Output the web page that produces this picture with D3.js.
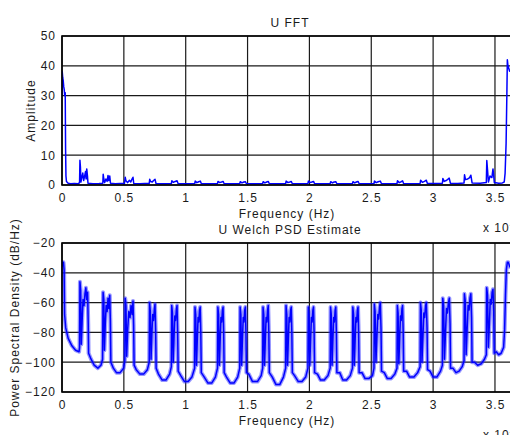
<!DOCTYPE html>
<html>
<head>
<meta charset="utf-8">
<script src="https://cdn.jsdelivr.net/npm/d3@7"></script>
<style>
  body { margin: 0; background: #fff; overflow: hidden; }
  svg { display: block; font-family: "Liberation Sans", Arial, sans-serif; }
  .tick text { font-size: 12px; fill: #1a1a1a; letter-spacing: 1px; }
  .lbl { font-size: 12px; fill: #1a1a1a; letter-spacing: 1px; }
</style>
</head>
<body>
<svg class="chart"></svg>
<script>
// Chart size (window is 510x435, right side of the axes is cut off)
const width = 510;
const height = 435;

// Tick labels
const freqTicks = [0, 0.5, 1, 1.5, 2, 2.5, 3, 3.5];
const ampTicks = [0, 10, 20, 30, 40, 50];
const dbTicks = [-120, -100, -80, -60, -40, -20];

// U FFT amplitude, [frequency (x 10^4 Hz), amplitude]
const fftData = [
  [0, 30], [0.002, 38], [0.006, 36], [0.01, 35], [0.014, 33], [0.018, 32], [0.022, 30], [0.026, 31], [0.029, 12], [0.032, 3], [0.036, 1.2],
  [0.05, 0.6], [0.07, 0.4], [0.1, 0.5], [0.13, 0.4],
  [0.142, 0.8], [0.145, 8.3], [0.149, 6], [0.153, 1], [0.16, 2.5], [0.168, 4], [0.175, 1.5], [0.183, 3], [0.19, 4.5], [0.195, 2], [0.2, 5.4], [0.206, 3], [0.21, 0.6],
  [0.25, 0.4], [0.3, 0.5], [0.33, 0.6], [0.333, 3.6], [0.338, 2], [0.345, 0.8], [0.355, 2], [0.365, 1.2], [0.372, 3.2], [0.378, 1.5], [0.386, 3], [0.392, 0.6],
  [0.43, 0.4], [0.47, 0.5], [0.505, 0.5], [0.511, 2.6], [0.517, 1.4], [0.53, 0.8], [0.545, 1.6], [0.556, 1], [0.566, 2], [0.574, 2.6], [0.58, 0.5],
  [0.63, 0.4], [0.67, 0.5], [0.705, 0.5], [0.709, 1.9], [0.716, 1.2], [0.73, 1], [0.74, 1.5], [0.752, 1.9], [0.76, 0.5],
  [0.82, 0.4], [0.884, 0.5], [0.888, 1.4], [0.9, 0.9], [0.915, 1.2], [0.93, 1.4], [0.938, 0.5],
  [1.0, 0.4], [1.073, 0.5], [1.077, 1.3], [1.09, 0.8], [1.105, 1.1], [1.118, 1.3], [1.126, 0.5],
  [1.19, 0.4], [1.257, 0.5], [1.261, 1.2], [1.275, 0.8], [1.29, 1], [1.302, 1.2], [1.31, 0.5],
  [1.37, 0.4], [1.437, 0.5], [1.441, 1.1], [1.455, 0.7], [1.47, 1], [1.482, 1.1], [1.49, 0.5],
  [1.55, 0.4], [1.622, 0.5], [1.626, 1.1], [1.64, 0.7], [1.655, 1], [1.667, 1.2], [1.675, 0.5],
  [1.74, 0.4], [1.808, 0.5], [1.812, 1.3], [1.826, 0.8], [1.842, 1], [1.853, 1.2], [1.861, 0.5],
  [1.92, 0.4], [1.988, 0.5], [1.992, 1.3], [2.006, 0.8], [2.02, 1], [2.033, 1.2], [2.041, 0.5],
  [2.1, 0.4], [2.168, 0.5], [2.172, 1.1], [2.186, 0.7], [2.2, 1], [2.213, 1.1], [2.221, 0.5],
  [2.28, 0.4], [2.348, 0.5], [2.352, 1.1], [2.366, 0.7], [2.38, 1], [2.393, 1.2], [2.401, 0.5],
  [2.46, 0.4], [2.522, 0.5], [2.526, 1.3], [2.54, 0.8], [2.556, 1.1], [2.573, 1.3], [2.582, 0.5],
  [2.64, 0.4], [2.708, 0.5], [2.712, 1.4], [2.726, 0.8], [2.742, 1.1], [2.753, 1.4], [2.761, 0.5],
  [2.83, 0.4], [2.895, 0.5], [2.899, 1.6], [2.913, 0.9], [2.93, 1.2], [2.945, 1.6], [2.954, 0.5],
  [3.02, 0.5], [3.075, 0.6], [3.079, 2.2], [3.09, 1.2], [3.11, 1.6], [3.13, 2.3], [3.14, 0.6],
  [3.2, 0.5], [3.25, 0.7], [3.254, 3.4], [3.262, 1.8], [3.28, 2], [3.295, 2.5], [3.305, 3.3], [3.315, 0.7],
  [3.38, 0.6], [3.43, 0.8], [3.434, 8.2], [3.44, 5], [3.447, 1], [3.46, 3], [3.475, 2.5], [3.484, 5.4], [3.49, 3], [3.495, 0.8],
  [3.53, 0.6], [3.56, 0.7], [3.575, 1], [3.582, 4], [3.59, 14], [3.596, 30], [3.6, 42], [3.605, 40], [3.62, 38]
];

// U Welch PSD estimate, [frequency (x 10^4 Hz), dB/Hz]
const psdData = [
  [0.000, -36], [0.004, -33], [0.012, -33], [0.017, -38], [0.021, -68], [0.03, -77], [0.05, -84], [0.08, -89], [0.11, -92], [0.138, -93],
  [0.142, -90], [0.145, -46], [0.151, -52], [0.156, -88], [0.163, -72], [0.17, -58], [0.178, -62], [0.186, -54], [0.193, -50], [0.2, -58], [0.207, -53], [0.212, -74], [0.215, -94],
  [0.235, -98], [0.26, -102], [0.29, -104], [0.315, -102], [0.328, -98],
  [0.332, -53], [0.338, -58], [0.343, -92], [0.35, -74], [0.357, -62], [0.365, -66], [0.372, -57], [0.379, -64], [0.386, -55], [0.391, -72], [0.395, -100],
  [0.415, -104], [0.44, -107], [0.47, -107], [0.498, -104],
  [0.508, -99], [0.511, -57], [0.517, -62], [0.523, -96], [0.531, -78], [0.54, -66], [0.55, -70], [0.558, -62], [0.567, -68], [0.574, -59], [0.579, -75], [0.583, -102],
  [0.6, -105], [0.63, -108], [0.66, -108], [0.69, -105],
  [0.705, -100], [0.708, -60], [0.714, -66], [0.72, -98], [0.727, -80], [0.733, -68], [0.74, -72], [0.747, -64], [0.752, -61], [0.757, -78], [0.761, -104],
  [0.78, -108], [0.81, -112], [0.84, -112], [0.87, -108],
  [0.884, -103], [0.887, -62], [0.893, -67], [0.899, -100], [0.906, -82], [0.912, -69], [0.918, -72], [0.925, -64], [0.93, -62], [0.935, -80], [0.939, -106],
  [0.96, -109], [0.99, -113], [1.02, -113], [1.05, -110],
  [1.072, -104], [1.075, -63], [1.081, -68], [1.087, -102], [1.094, -84], [1.1, -70], [1.106, -73], [1.112, -65], [1.117, -63], [1.122, -80], [1.126, -107],
  [1.15, -110], [1.18, -114], [1.21, -114], [1.24, -110],
  [1.257, -104], [1.26, -63], [1.266, -68], [1.272, -102], [1.279, -84], [1.285, -70], [1.291, -73], [1.297, -65], [1.302, -63], [1.307, -80], [1.311, -107],
  [1.33, -110], [1.36, -114], [1.39, -114], [1.42, -110],
  [1.437, -104], [1.44, -63], [1.446, -68], [1.452, -102], [1.459, -84], [1.465, -70], [1.471, -73], [1.477, -65], [1.482, -63], [1.487, -80], [1.491, -107],
  [1.51, -108], [1.54, -113], [1.58, -113], [1.61, -109],
  [1.622, -104], [1.625, -63], [1.631, -68], [1.637, -102], [1.644, -84], [1.65, -70], [1.656, -73], [1.662, -65], [1.667, -62], [1.672, -80], [1.676, -107],
  [1.70, -110], [1.73, -115], [1.76, -115], [1.79, -110],
  [1.808, -104], [1.811, -62], [1.817, -68], [1.823, -102], [1.83, -84], [1.836, -70], [1.842, -73], [1.848, -65], [1.853, -63], [1.858, -80], [1.862, -107],
  [1.88, -109], [1.91, -113], [1.94, -113], [1.97, -110],
  [1.988, -104], [1.991, -63], [1.997, -68], [2.003, -102], [2.01, -84], [2.016, -70], [2.022, -73], [2.028, -65], [2.033, -63], [2.038, -80], [2.042, -107],
  [2.065, -108], [2.09, -112], [2.12, -112], [2.15, -109],
  [2.168, -104], [2.171, -63], [2.177, -68], [2.183, -102], [2.19, -84], [2.196, -70], [2.202, -73], [2.208, -65], [2.213, -63], [2.218, -80], [2.222, -107],
  [2.245, -107], [2.27, -112], [2.3, -112], [2.33, -109],
  [2.348, -104], [2.351, -63], [2.357, -68], [2.363, -102], [2.37, -84], [2.376, -70], [2.382, -73], [2.388, -65], [2.393, -63], [2.398, -80], [2.402, -107],
  [2.425, -107], [2.45, -111], [2.48, -111], [2.51, -109],
  [2.522, -104], [2.525, -61], [2.531, -66], [2.538, -100], [2.546, -82], [2.553, -68], [2.56, -71], [2.567, -63], [2.573, -60], [2.579, -78], [2.583, -106],
  [2.605, -107], [2.63, -111], [2.66, -111], [2.69, -108],
  [2.708, -104], [2.711, -62], [2.717, -67], [2.723, -101], [2.73, -83], [2.736, -69], [2.742, -72], [2.748, -64], [2.753, -62], [2.758, -79], [2.762, -106],
  [2.785, -106], [2.81, -110], [2.845, -110], [2.875, -107],
  [2.895, -103], [2.898, -60], [2.904, -65], [2.91, -100], [2.918, -82], [2.925, -67], [2.932, -70], [2.939, -62], [2.945, -60], [2.951, -77], [2.955, -105],
  [2.975, -106], [3.0, -110], [3.03, -110], [3.06, -106],
  [3.075, -102], [3.078, -57], [3.085, -62], [3.092, -98], [3.1, -80], [3.108, -64], [3.116, -67], [3.124, -60], [3.131, -57], [3.137, -74], [3.141, -104],
  [3.16, -104], [3.185, -107], [3.21, -106], [3.235, -103],
  [3.25, -99], [3.253, -54], [3.26, -59], [3.267, -95], [3.275, -78], [3.283, -62], [3.291, -65], [3.298, -57], [3.305, -54], [3.311, -70], [3.315, -100],
  [3.335, -100], [3.36, -102], [3.39, -101], [3.415, -98],
  [3.43, -95], [3.433, -50], [3.44, -55], [3.447, -90], [3.455, -74], [3.462, -58], [3.47, -61], [3.477, -53], [3.484, -51], [3.49, -66], [3.494, -94],
  [3.51, -93], [3.53, -95], [3.55, -94], [3.57, -90],
  [3.578, -78], [3.585, -55], [3.592, -38], [3.6, -33], [3.608, -33], [3.62, -36], [3.67, -36]
];

const svg = d3.select(".chart")
    .attr("width", width)
    .attr("height", height);

// Shared frequency scale
const x = d3.scaleLinear().domain([0, 3.67]).range([62, 516]);

// Draws one MATLAB-style panel: box, grid, ticks, line
function panel(opts) {
    const y = d3.scaleLinear().domain(opts.yDomain).range([opts.bottom, opts.top]);
    const g = svg.append("g");

    g.append("clipPath").attr("id", opts.id)
      .append("rect")
        .attr("x", x.range()[0]).attr("y", opts.top)
        .attr("width", x.range()[1] - x.range()[0])
        .attr("height", opts.bottom - opts.top);

    // grid
    g.selectAll(".vgrid").data(freqTicks).enter().append("line")
        .attr("x1", d => x(d)).attr("x2", d => x(d))
        .attr("y1", opts.top).attr("y2", opts.bottom)
        .attr("stroke", "#1a1a1a").attr("stroke-width", 1.2);
    g.selectAll(".hgrid").data(opts.yTicks).enter().append("line")
        .attr("x1", x.range()[0]).attr("x2", x.range()[1])
        .attr("y1", d => y(d)).attr("y2", d => y(d))
        .attr("stroke", "#1a1a1a").attr("stroke-width", 1.2);

    // data line
    const line = d3.line().x(d => x(d[0])).y(d => y(d[1]));
    const lg = g.append("g").attr("clip-path", `url(#${opts.id})`);
    if (opts.halo) {
        lg.append("path").datum(opts.data)
            .attr("d", line).attr("fill", "none")
            .attr("stroke", "#3030ff").attr("stroke-width", 4)
            .attr("stroke-opacity", 0.5).attr("stroke-linejoin", "round");
    }
    lg.append("path").datum(opts.data)
        .attr("d", line).attr("fill", "none")
        .attr("stroke", "#0000ff").attr("stroke-width", opts.lw)
        .attr("stroke-linejoin", "round");

    // box
    g.append("rect")
        .attr("x", x.range()[0]).attr("y", opts.top)
        .attr("width", x.range()[1] - x.range()[0])
        .attr("height", opts.bottom - opts.top)
        .attr("fill", "none").attr("stroke", "#000").attr("stroke-width", 1.6);

    // axes (labels only)
    g.append("g")
        .attr("transform", `translate(0,${opts.bottom})`)
        .call(d3.axisBottom(x).tickValues(freqTicks).tickFormat(d3.format("")).tickSize(0).tickPadding(8))
        .call(a => a.select(".domain").remove());
    g.append("g")
        .attr("transform", `translate(${x.range()[0]},0)`)
        .call(d3.axisLeft(y).tickValues(opts.yTicks).tickSize(0).tickPadding(6))
        .call(a => a.select(".domain").remove());

    g.append("text").attr("class", "lbl")
        .attr("x", 290).attr("y", opts.top - 9)
        .attr("text-anchor", "middle").text(opts.title);
    g.append("text").attr("class", "lbl")
        .attr("x", 287).attr("y", opts.bottom + 33)
        .attr("text-anchor", "middle").text("Frequency (Hz)");
    const ex = g.append("text").attr("class", "lbl")
        .attr("x", 483).attr("y", opts.bottom + 47);
    ex.append("tspan").text("x 10");
    ex.append("tspan").attr("dy", -5).attr("font-size", 9).text("4");

    g.append("text").attr("class", "lbl")
        .attr("transform", `translate(${opts.ylabelX},${(opts.top + opts.bottom) / 2}) rotate(-90)`)
        .attr("text-anchor", "middle").text(opts.ylabel);
}

panel({
    id: "clipTop", top: 36, bottom: 185, yDomain: [0, 50], yTicks: ampTicks,
    data: fftData, lw: 1.5, halo: false,
    title: "U FFT", ylabel: "Amplitude", ylabelX: 35
});

panel({
    id: "clipBottom", top: 243, bottom: 392, yDomain: [-120, -20], yTicks: dbTicks,
    data: psdData, lw: 1.5, halo: true,
    title: "U Welch PSD Estimate", ylabel: "Power Spectral Density (dB/Hz)", ylabelX: 19
});
</script>
</body>
</html>
